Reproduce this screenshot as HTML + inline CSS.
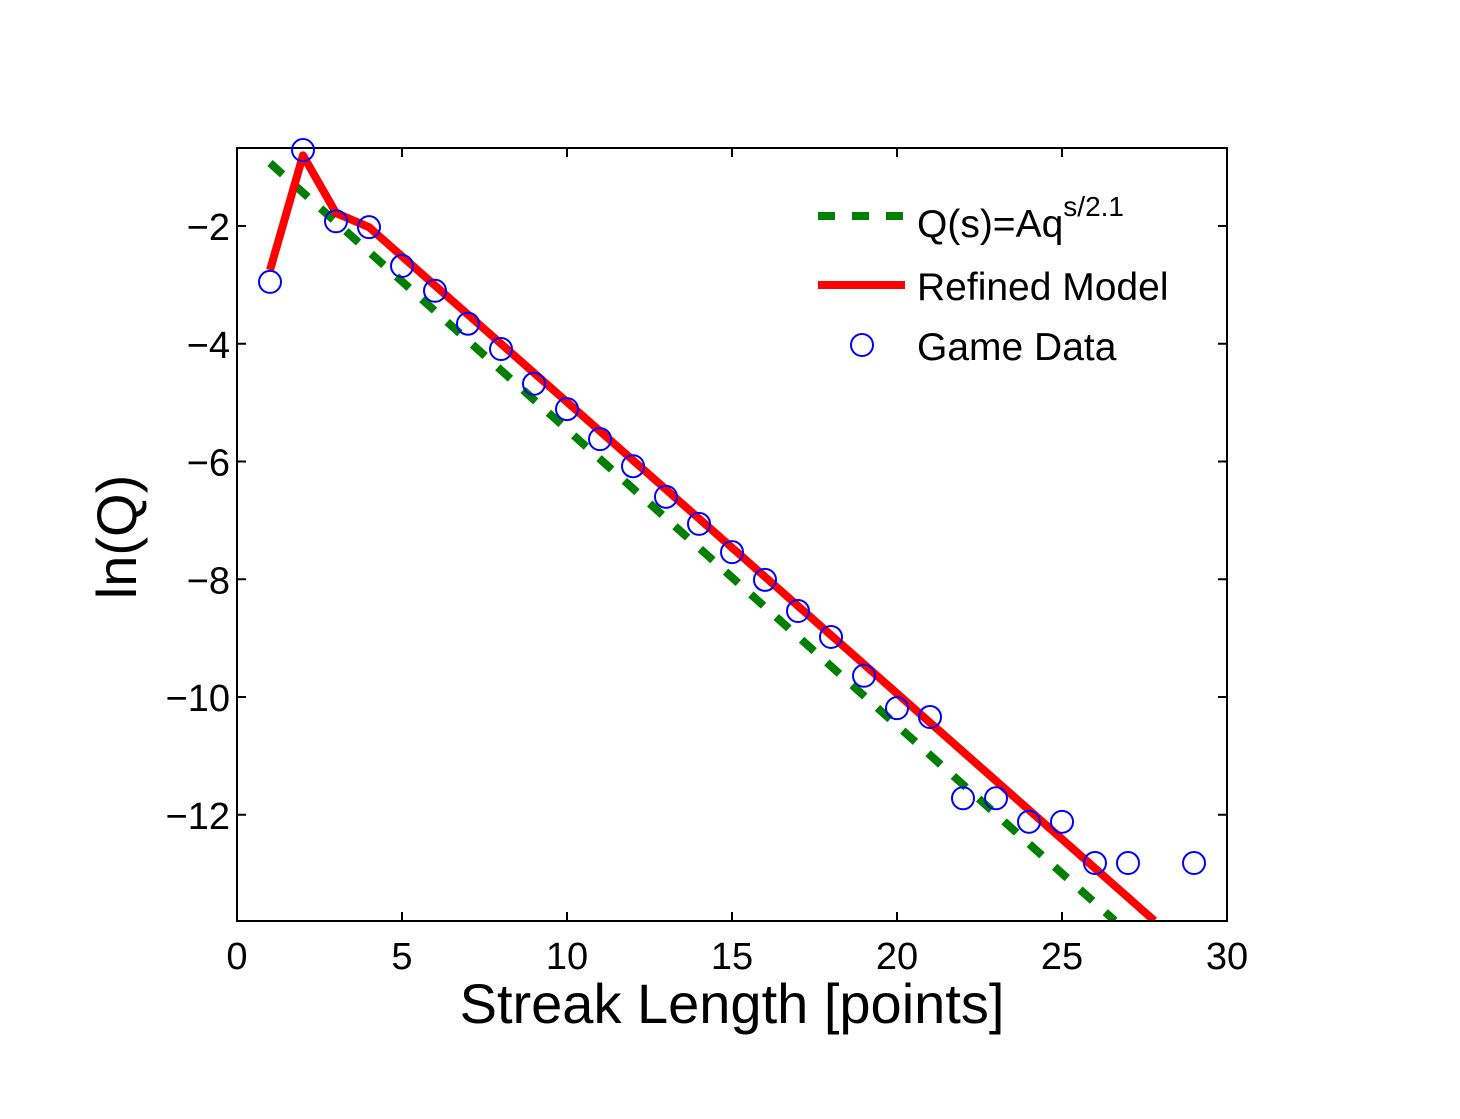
<!DOCTYPE html>
<html><head><meta charset="utf-8"><style>
html,body{margin:0;padding:0;background:#fff;}
svg{display:block;font-family:"Liberation Sans",sans-serif;}
</style></head><body>
<svg id="chart" width="1460" height="1119" viewBox="0 0 1460 1119">
<defs><clipPath id="clip"><rect x="237" y="148" width="990" height="773"/></clipPath></defs>
<rect x="0" y="0" width="1460" height="1119" fill="#fff"/>
<g id="ticks"></g>
<g id="series" clip-path="url(#clip)"></g>
<rect x="237" y="148" width="990" height="773" fill="none" stroke="#000" stroke-width="2"/>
<text x="732" y="1023" font-size="56" text-anchor="middle">Streak Length [points]</text>
<text transform="translate(136,537) rotate(-90)" font-size="56" text-anchor="middle">ln(Q)</text>
<g>
<line x1="818" y1="216" x2="905" y2="216" stroke="#007f00" stroke-width="8" stroke-dasharray="17,17"/>
<text x="917" y="237" font-size="39">Q(s)=Aq<tspan dy="-21" font-size="28">s/2.1</tspan></text>
<line x1="818" y1="285" x2="905" y2="285" stroke="#ff0000" stroke-width="8"/>
<text x="917" y="300" font-size="39">Refined Model</text>
<circle cx="862" cy="345" r="11" fill="none" stroke="#0000ff" stroke-width="2"/>
<text x="917" y="360" font-size="39">Game Data</text>
</g>
</svg>
<script>
const xTicks=[0,5,10,15,20,25,30];
const yTicks=[-2,-4,-6,-8,-10,-12];
const dataS=[1,2,3,4,5,6,7,8,9,10,11,12,13,14,15,16,17,18,19,20,21,22,23,24,25,26,27,29];
const dataQ=[-2.95,-0.71,-1.92,-2.02,-2.68,-3.10,-3.66,-4.09,-4.68,-5.11,-5.62,-6.08,-6.60,-7.06,-7.54,-8.01,-8.54,-8.98,-9.64,-10.19,-10.34,-11.72,-11.72,-12.12,-12.12,-12.82,-12.82,-12.82];
const modelS=[1,2,3,4,27.8];
const modelQ=[-2.75,-0.8,-1.78,-2.02,-13.8];
const fitS=[1,26.6];
const fitQ=[-0.93,-13.8];
const NS="http://www.w3.org/2000/svg";
const X=s=>237+s*33;
const Y=v=>226+(-2-v)*58.875;
const tg=document.getElementById('ticks'), sg=document.getElementById('series');
function mk(t,a,p){const e=document.createElementNS(NS,t);for(const k in a)e.setAttribute(k,a[k]);p.appendChild(e);return e;}
xTicks.forEach(t=>{
 const a=mk('line',{x1:X(t),x2:X(t),y1:921,y2:912,stroke:'#000','stroke-width':2},tg);
 
 
 const b=mk('line',{x1:X(t),x2:X(t),y1:148,y2:157,stroke:'#000','stroke-width':2},tg);
 
 
 const l=mk('text',{x:X(t),y:969,'font-size':38,'text-anchor':'middle'},tg);l.textContent=t;
 
 
});
yTicks.forEach(t=>{
 const a=mk('line',{x1:237,x2:246,y1:Y(t),y2:Y(t),stroke:'#000','stroke-width':2},tg);
 
 
 const b=mk('line',{x1:1218,x2:1227,y1:Y(t),y2:Y(t),stroke:'#000','stroke-width':2},tg);
 
 
 const l=mk('text',{x:230,y:Y(t)+14,'font-size':38,'text-anchor':'end'},tg);l.textContent='\u2212'+Math.abs(t);
 
 
});
const fit=mk('polyline',{points:fitS.map((s,i)=>X(s)+','+Y(fitQ[i])).join(' '),fill:'none',stroke:'#007f00','stroke-width':8,'stroke-dasharray':'17,17'},sg);


const model=mk('polyline',{points:modelS.map((s,i)=>X(s)+','+Y(modelQ[i])).join(' '),fill:'none',stroke:'#ff0000','stroke-width':8,'stroke-linejoin':'round'},sg);


dataS.forEach((s,i)=>{
 const c=mk('circle',{cx:X(s),cy:Y(dataQ[i]),r:11,fill:'none',stroke:'#0000ff','stroke-width':2},document.getElementById('chart'));
 
 
});
</script>
</body></html>
